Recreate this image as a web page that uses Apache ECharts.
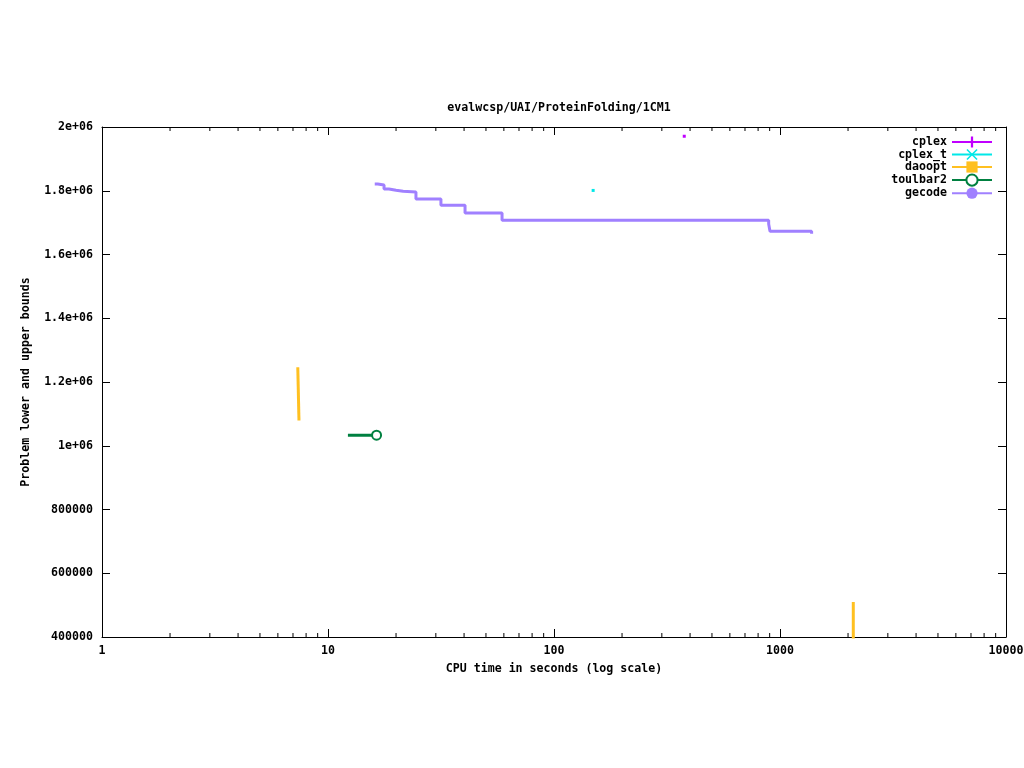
<!DOCTYPE html>
<html>
<head>
<meta charset="utf-8">
<script src="https://cdn.jsdelivr.net/npm/echarts@6/dist/echarts.min.js"></script>
<style>
html,body{margin:0;padding:0;background:#fff;}
#chart{width:1024px;height:768px;}
</style>
</head>
<body>
<div id="chart"></div>
<script>
// ---- data (time in seconds, bound value) ----
const titleText = 'evalwcsp/UAI/ProteinFolding/1CM1';
const xAxisName = 'CPU time in seconds (log scale)';
const yAxisName = 'Problem lower and upper bounds';

const cplexData = [[377, 1971000]];
const cplexTData = [[149, 1801000]];
const daooptData1 = [[7.35, 1246000], [7.44, 1246000], [7.44, 1079000]];
const daooptData2 = [[2110, 510000], [2110, 300000]];
const toulbar2Data = [[12.25, 1033000], [16.4, 1033000]];
const gecodeData = [
  [16.1, 1821000], [16.6, 1818000], [17.7, 1805500], [18.6, 1801400],
  [20.0, 1798300], [21.5, 1796100], [24.5, 1774100], [31.6, 1754400],
  [40.4, 1730200], [58.9, 1707500], [891, 1695700], [903, 1672800],
  [1380, 1672800], [1380, 1665000]
];

const xMin = 1, xMax = 10000;
const yMin = 400000, yMax = 2000000, yInterval = 200000;
const yTickValues = [400000, 600000, 800000, 1000000, 1200000, 1400000, 1600000, 1800000, 2000000];
const yTickLabels = ['400000', '600000', '800000', '1e+06', '1.2e+06', '1.4e+06', '1.6e+06', '1.8e+06', '2e+06'];
const xTickValues = [1, 10, 100, 1000, 10000];
const xTickLabels = ['1', '10', '100', '1000', '10000'];
const xMinorTicks = [2,3,4,5,6,7,8,9, 20,30,40,50,60,70,80,90, 200,300,400,500,600,700,800,900, 2000,3000,4000,5000,6000,7000,8000,9000];

const seriesNames = ['cplex', 'cplex_t', 'daoopt', 'toulbar2', 'gecode'];
const colors = {cplex: '#c000ff', cplex_t: '#00e8e8', daoopt: '#ffc020', toulbar2: '#008040', gecode: '#a080ff'};

const FONT = "'DejaVu Sans Mono', monospace";
const textBase = {fontFamily: FONT, fontWeight: 'bold', fontSize: 11.6, color: '#000'};

const plusPath = 'path://M4,0h2v10h-2zM0,4h10v2h-10z';
const crossPath = 'path://M1,0L5,4L9,0L10,1L6,5L10,9L9,10L5,6L1,10L0,9L4,5L0,1Z';

function pointItems(arr) {
  return arr.map(p => ({value: p, symbol: 'rect', symbolSize: 3}));
}

const chart = echarts.init(document.getElementById('chart'), null, {renderer: 'canvas'});

const axisLineStyle = {show: true, onZero: false, lineStyle: {color: '#000', width: 1}};
const tickStyle = {show: true, inside: true, length: 8, lineStyle: {color: '#000'}};

const option = {
  animation: false,
  backgroundColor: '#fff',
  title: {
    text: titleText, left: 554, top: 97, textAlign: 'center',
    textStyle: Object.assign({}, textBase)
  },
  legend: {
    orient: 'vertical', right: 26, top: 131, align: 'right',
    itemWidth: 40, itemHeight: 14, itemGap: 0.5,
    textStyle: Object.assign({}, textBase),
    data: seriesNames
  },
  grid: {left: 102, right: 18, top: 127, bottom: 131, containLabel: false, outerBoundsMode: 'none'},
  xAxis: [{
    type: 'log', logBase: 10, min: xMin, max: xMax,
    name: xAxisName, nameLocation: 'middle', nameGap: 26,
    nameTextStyle: Object.assign({}, textBase),
    axisLine: axisLineStyle, axisTick: tickStyle,
    axisLabel: Object.assign({margin: 8, formatter: function (v) {
      const i = xTickValues.indexOf(Math.round(v));
      return i >= 0 ? xTickLabels[i] : String(v);
    }}, textBase),
    splitLine: {show: false}, minorTick: {show: false}
  }, {
    type: 'log', logBase: 10, min: xMin, max: xMax, position: 'top',
    axisLine: axisLineStyle, axisTick: tickStyle,
    axisLabel: {show: false}, splitLine: {show: false}
  }],
  yAxis: [{
    type: 'value', min: yMin, max: yMax, interval: yInterval,
    name: yAxisName, nameLocation: 'middle', nameGap: 70, nameRotate: 90,
    nameTextStyle: Object.assign({}, textBase),
    axisLine: axisLineStyle, axisTick: tickStyle,
    axisLabel: Object.assign({margin: 9, formatter: function (v) {
      const i = yTickValues.indexOf(v);
      return i >= 0 ? yTickLabels[i] : String(v);
    }}, textBase),
    splitLine: {show: false}
  }, {
    type: 'value', min: yMin, max: yMax, interval: yInterval, position: 'right',
    axisLine: axisLineStyle, axisTick: tickStyle,
    axisLabel: {show: false}, splitLine: {show: false}
  }],
  series: [
    {
      name: 'cplex', type: 'line', symbol: plusPath, symbolSize: 12,
      color: colors.cplex, lineStyle: {width: 3, color: colors.cplex},
      itemStyle: {color: colors.cplex},
      data: pointItems(cplexData), z: 5
    },
    {
      name: 'cplex_t', type: 'line', symbol: crossPath, symbolSize: 12,
      color: colors.cplex_t, lineStyle: {width: 3, color: colors.cplex_t},
      itemStyle: {color: colors.cplex_t},
      data: pointItems(cplexTData), z: 5
    },
    {
      name: 'daoopt', type: 'line', symbol: 'rect', showSymbol: false,
      color: colors.daoopt, lineStyle: {width: 3, color: colors.daoopt},
      itemStyle: {color: colors.daoopt},
      data: daooptData1, z: 4
    },
    {
      name: 'daoopt', type: 'line', symbol: 'rect', showSymbol: false,
      color: colors.daoopt, lineStyle: {width: 3, color: colors.daoopt},
      itemStyle: {color: colors.daoopt},
      data: daooptData2, z: 4
    },
    {
      name: 'toulbar2', type: 'line', symbol: 'emptyCircle', symbolSize: 9,
      color: colors.toulbar2, lineStyle: {width: 3, color: colors.toulbar2},
      itemStyle: {color: colors.toulbar2, borderWidth: 3, borderColor: colors.toulbar2},
      data: toulbar2Data.map((p, i) => i === toulbar2Data.length - 1 ? {value: p} : {value: p, symbol: 'none'}),
      z: 4
    },
    {
      name: 'gecode', type: 'line', symbol: 'circle', showSymbol: false, step: 'end',
      color: colors.gecode, lineStyle: {width: 3, color: colors.gecode},
      itemStyle: {color: colors.gecode},
      data: gecodeData, z: 3
    },
    {
      name: 'minorTicks', type: 'custom', silent: true, xAxisIndex: 0, yAxisIndex: 0,
      encode: {x: 0},
      data: xMinorTicks.map(v => [v]),
      renderItem: function (params, api) {
        const v = api.value(0);
        const b = api.coord([v, yMin]);
        const t = api.coord([v, yMax]);
        return {
          type: 'group',
          children: [
            {type: 'line', shape: {x1: b[0], y1: b[1], x2: b[0], y2: b[1] - 4}, style: {stroke: '#000', lineWidth: 1}},
            {type: 'line', shape: {x1: t[0], y1: t[1], x2: t[0], y2: t[1] + 4}, style: {stroke: '#000', lineWidth: 1}}
          ]
        };
      },
      z: 10
    }
  ]
};

chart.setOption(option);
</script>
</body>
</html>
